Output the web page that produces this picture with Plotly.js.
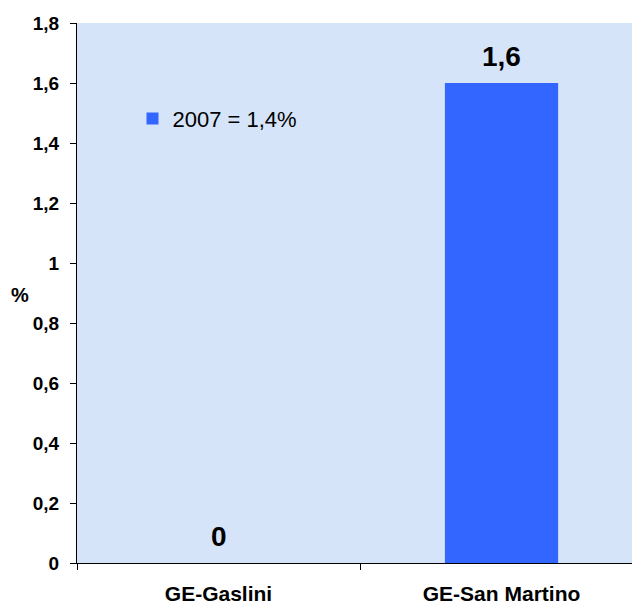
<!DOCTYPE html>
<html>
<head>
<meta charset="utf-8">
<script src="https://cdn.plot.ly/plotly-3.0.1.min.js"></script>
<style>body{margin:0;padding:0;background:#fff}</style>
</head>
<body>
<div id="chart" style="width:632px;height:605px"></div>
<script>
const categories = ["GE-Gaslini", "GE-San Martino"];
const values = [0, 1.6];
const seriesName = "2007 = 1,4%";
const yTicks = [0, 0.2, 0.4, 0.6, 0.8, 1, 1.2, 1.4, 1.6, 1.8];
const yTickLabels = ["0", "0,2", "0,4", "0,6", "0,8", "1", "1,2", "1,4", "1,6", "1,8"];
const yTitle = "%";

const FONT = 'Liberation Sans, Arial, sans-serif';

const trace = {
  type: 'bar',
  x: categories,
  y: values,
  name: seriesName,
  width: 0.4,
  marker: {color: '#3366ff'},
  hoverinfo: 'none'
};

const dataLabels = categories.map((c, i) => ({
  x: c, y: values[i], xref: 'x', yref: 'y',
  text: String(values[i]).replace('.', ','),
  showarrow: false, yanchor: 'bottom', yshift: 9,
  font: {family: FONT, size: 28, color: '#000', weight: 'bold'}
}));

const layout = {
  width: 632, height: 605,
  margin: {l: 77, r: 0, t: 23, b: 42},
  paper_bgcolor: '#ffffff',
  plot_bgcolor: '#d5e4f8',
  separators: ',.',
  font: {family: FONT, color: '#000'},
  showlegend: true,
  legend: {
    x: 0.10, y: 0.823, xanchor: 'left', yanchor: 'middle',
    bgcolor: 'rgba(0,0,0,0)',
    font: {size: 22, color: '#000', family: FONT}
  },
  annotations: dataLabels.concat([{
    xref: 'paper', yref: 'paper', x: -0.1027, y: 0.496,
    xanchor: 'center', yanchor: 'middle', showarrow: false,
    text: yTitle,
    font: {family: FONT, size: 20, color: '#000', weight: 'bold'}
  }]),
  xaxis: {
    type: 'category',
    range: [-0.5, 1.461],
    showline: true, linecolor: '#000', linewidth: 1,
    ticks: 'outside', ticklen: 6, tickcolor: '#000',
    tickson: 'boundaries',
    ticklabelstandoff: 12,
    showgrid: false, zeroline: false,
    tickfont: {size: 21, weight: 'bold', color: '#000', family: FONT},
    automargin: false,
    fixedrange: true
  },
  yaxis: {
    range: [0, 1.8],
    tickvals: yTicks,
    ticktext: yTickLabels,
    showline: true, linecolor: '#000', linewidth: 1,
    ticks: 'outside', ticklen: 6, tickcolor: '#000',
    ticklabelstandoff: 7,
    showgrid: false, zeroline: false,
    tickfont: {size: 19, weight: 'bold', color: '#000', family: FONT},
    automargin: false,
    fixedrange: true
  }
};

Plotly.newPlot('chart', [trace], layout, {displayModeBar: false, staticPlot: true});
</script>
</body>
</html>
